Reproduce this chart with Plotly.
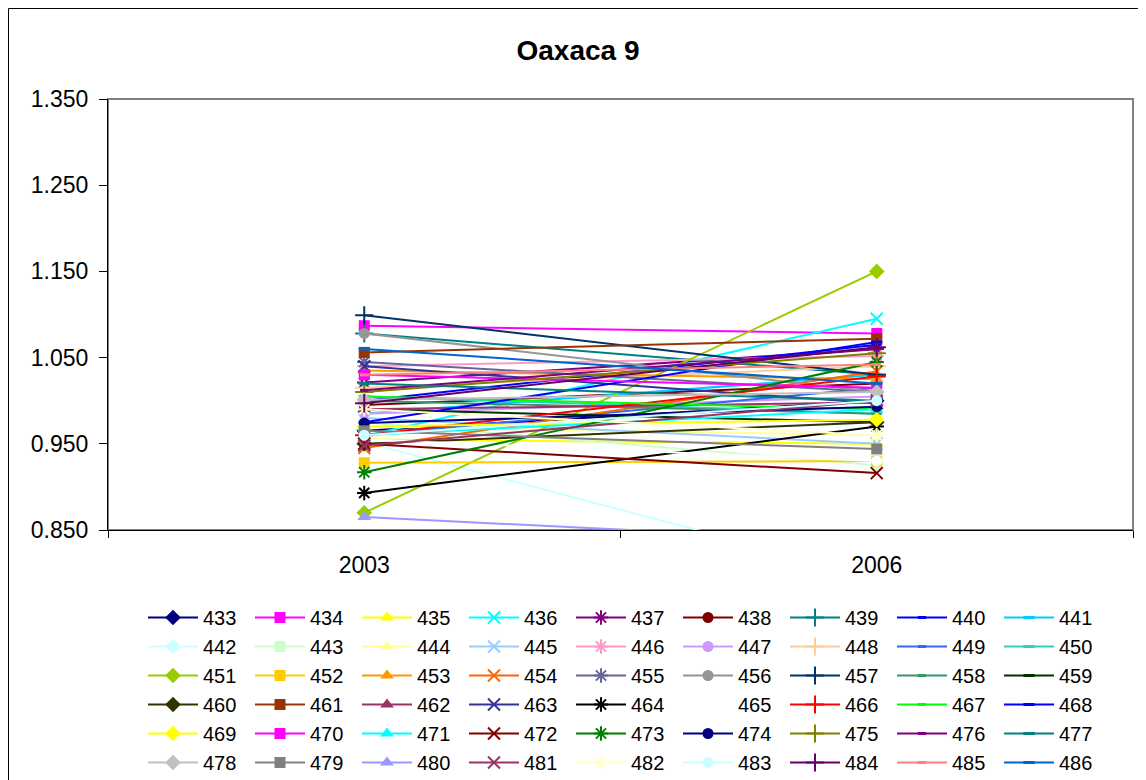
import plotly.graph_objects as go

years = ["2003", "2006"]

series_names = [str(n) for n in range(433, 487)]

values_2003 = [
    0.965, 1.087, 0.955, 0.959, 1.021, 0.995, 1.078, 1.000, 0.985,   # 433-441
    0.952, 0.975, 0.970, 0.980, 1.040, 0.985, 1.015, 0.960, 1.005,   # 442-450
    0.870, 0.928, 1.035, 0.945, 1.045, 1.078, 1.099, 1.000, 0.990,   # 451-459
    0.950, 1.056, 0.990, 1.040, 0.893, 0.955, 0.960, 1.005, 0.975,   # 460-468
    0.970, 1.030, 0.960, 0.950, 0.917, 0.974, 1.010, 1.012, 1.020,   # 469-477
    1.001, 0.965, 0.865, 0.948, 0.990, 0.960, 0.997, 1.030, 1.060,   # 478-486
]

values_2006 = [
    1.000, 1.078, 0.950, 1.095, 1.060, 1.020, 1.030, 1.065, 1.030,   # 433-441
    0.795, 0.925, 0.960, 0.950, 1.052, 1.005, 1.040, 1.015, 0.985,   # 442-450
    1.150, 0.930, 1.025, 1.034, 1.010, 1.010, 1.030, 0.985, 0.975,   # 451-459
    0.975, 1.072, 0.998, 0.997, 0.970, 0.930, 1.028, 0.990, 1.068,   # 460-468
    0.978, 1.015, 0.990, 0.916, 1.045, 0.993, 1.055, 1.060, 1.000,   # 469-477
    1.010, 0.944, 0.836, 1.000, 0.960, 1.000, 1.062, 1.042, 1.020,   # 478-486
]

colors = [
    "#000080", "#FF00FF", "#FFFF00", "#00FFFF", "#800080", "#800000", "#008080", "#0000FF", "#00CCFF",
    "#CCFFFF", "#CCFFCC", "#FFFF99", "#99CCFF", "#FF99CC", "#CC99FF", "#FFCC99", "#3366FF", "#33CCCC",
    "#99CC00", "#FFCC00", "#FF9900", "#FF6600", "#666699", "#969696", "#003366", "#339966", "#003300",
    "#333300", "#993300", "#993366", "#333399", "#000000", "#FFFFFF", "#FF0000", "#00FF00", "#0000FF",
    "#FFFF00", "#FF00FF", "#00FFFF", "#800000", "#008000", "#000080", "#808000", "#800080", "#008080",
    "#C0C0C0", "#808080", "#9999FF", "#993366", "#FFFFCC", "#CCFFFF", "#660066", "#FF8080", "#0066CC",
]

marker_cycle = [
    ("diamond", 12, 0),
    ("square", 11, 0),
    ("triangle-up", 12, 0),
    ("x-thin-open", 12, 2),
    ("asterisk-open", 12, 2),
    ("circle", 11, 0),
    ("cross-thin-open", 13, 2),
    ("line-ew-open", 6, 3),
    ("line-ew-open", 8, 3),
]

fig = go.Figure()
for i, name in enumerate(series_names):
    sym, size, lw = marker_cycle[i % 9]
    c = colors[i]
    fig.add_trace(go.Scatter(
        x=years,
        y=[values_2003[i], values_2006[i]],
        name=name,
        mode="lines+markers",
        line=dict(color=c, width=2),
        marker=dict(symbol=sym, size=size, color=c,
                    line=dict(color=c, width=lw)),
        cliponaxis=True,
    ))

# page body adds an 8px offset; figure is laid out in its own pixel frame
OFF = 8
W, H = 1146 - OFF, 780 - OFF
L, R, T, B = 108 - OFF, 13, 99 - OFF, 250
pw, ph = W - L - R, H - T - B

def px_x(p):
    return (p - OFF - L) / pw

def px_y(p):
    return (H - B - (p - OFF)) / ph

fig.update_layout(
    width=W, height=H,
    margin=dict(l=L, r=R, t=T, b=B, autoexpand=False),
    paper_bgcolor="white",
    plot_bgcolor="white",
    font=dict(family="Liberation Sans, Arial, sans-serif", color="black"),
    title=dict(text="<b>Oaxaca 9</b>", x=(578 - OFF) / W, xanchor="center",
               y=1 - (50 - OFF) / H, yanchor="middle", yref="container",
               font=dict(size=28, color="black")),
    xaxis=dict(type="category", categoryorder="array", categoryarray=years,
               range=[-0.5, 1.5], tickson="boundaries", ticks="outside",
               ticklen=7, tickcolor="black", tickwidth=1,
               showline=True, linecolor="black", linewidth=1,
               showgrid=False, zeroline=False,
               tickfont=dict(size=23), ticklabelstandoff=14),
    yaxis=dict(range=[0.85, 1.35], tickmode="array",
               tickvals=[0.85, 0.95, 1.05, 1.15, 1.25, 1.35],
               tickformat=".3f", ticks="outside", ticklen=8,
               tickcolor="black", tickwidth=1,
               showline=True, linecolor="black", linewidth=1,
               showgrid=False, zeroline=False,
               tickfont=dict(size=23), ticklabelstandoff=6),
    showlegend=True,
    legend=dict(orientation="h", x=px_x(143), xanchor="left",
                y=px_y(598), yanchor="top",
                entrywidth=42, entrywidthmode="pixels",
                itemwidth=50, itemsizing="trace",
                font=dict(size=20, color="black"),
                bgcolor="rgba(0,0,0,0)", traceorder="normal"),
    shapes=[
        dict(type="rect", xref="paper", yref="paper", x0=0, x1=1, y0=0, y1=1,
             line=dict(color="#808080", width=2), layer="below"),
        dict(type="rect", xref="paper", yref="paper",
             x0=px_x(8.5), x1=px_x(1144.5), y0=px_y(800), y1=px_y(8.5),
             line=dict(color="black", width=1), layer="below"),
    ],
)

fig.write_html("out.html")
